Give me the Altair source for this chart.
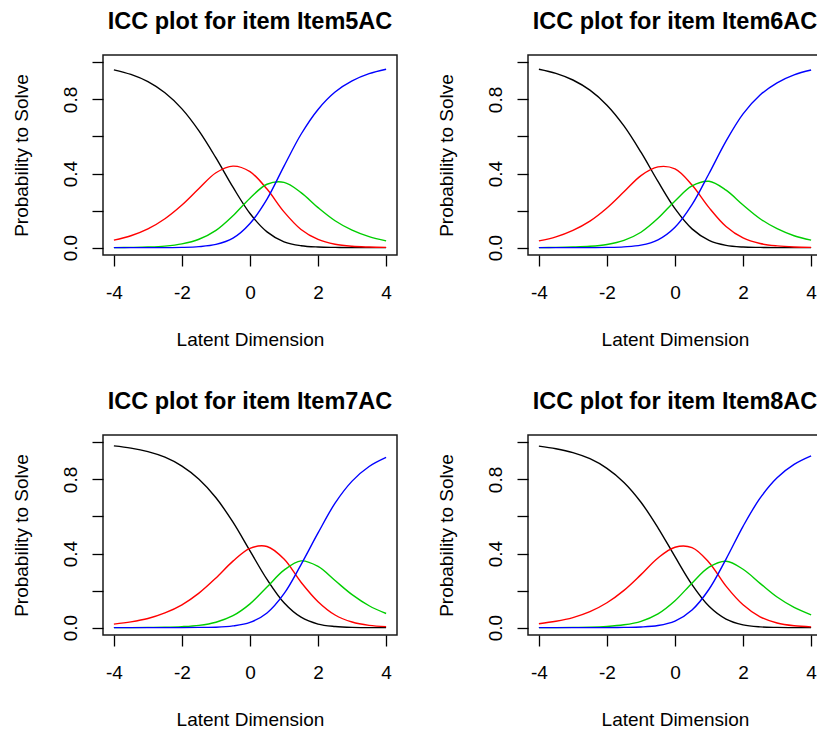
import altair as alt
import pandas as pd

# Latent dimension grid the category curves are sampled on
theta = [-4.0, -3.5, -3.0, -2.5, -2.0, -1.5, -1.0, -0.5, 0.0,
         0.5, 1.0, 1.5, 2.0, 2.5, 3.0, 3.5, 4.0]

items = ["Item5AC", "Item6AC", "Item7AC", "Item8AC"]
categories = ["0", "1", "2", "3"]
category_colors = ["black", "red", "#00CD00", "blue"]

x_ticks = [-4, -2, 0, 2, 4]
y_ticks = [0.0, 0.2, 0.4, 0.6, 0.8, 1.0]
y_tick_labels = ["0.0", "", "0.4", "", "0.8", ""]

# Category response probabilities, one list per category
item5_cat0 = [0.960, 0.935, 0.896, 0.836, 0.749, 0.630, 0.484, 0.326, 0.184,
              0.085, 0.031, 0.010, 0.003, 0.001, 0.000, 0.000, 0.000]
item5_cat1 = [0.040, 0.064, 0.101, 0.156, 0.230, 0.319, 0.404, 0.440, 0.410,
              0.316, 0.193, 0.098, 0.044, 0.018, 0.007, 0.003, 0.001]
item5_cat2 = [0.000, 0.001, 0.003, 0.008, 0.020, 0.045, 0.093, 0.172, 0.267,
              0.342, 0.352, 0.297, 0.216, 0.145, 0.094, 0.059, 0.036]
item5_cat3 = [0.000, 0.000, 0.000, 0.000, 0.001, 0.005, 0.017, 0.051, 0.130,
              0.262, 0.440, 0.612, 0.746, 0.840, 0.900, 0.939, 0.963]

item6_cat0 = [0.963, 0.941, 0.905, 0.850, 0.769, 0.657, 0.515, 0.357, 0.210,
              0.101, 0.039, 0.012, 0.003, 0.001, 0.000, 0.000, 0.000]
item6_cat1 = [0.036, 0.058, 0.093, 0.143, 0.214, 0.301, 0.389, 0.436, 0.425,
              0.338, 0.216, 0.114, 0.052, 0.022, 0.009, 0.003, 0.001]
item6_cat2 = [0.000, 0.001, 0.003, 0.007, 0.017, 0.039, 0.083, 0.158, 0.252,
              0.333, 0.358, 0.310, 0.230, 0.156, 0.102, 0.064, 0.040]
item6_cat3 = [0.000, 0.000, 0.000, 0.000, 0.001, 0.004, 0.013, 0.042, 0.110,
              0.232, 0.400, 0.575, 0.722, 0.824, 0.890, 0.933, 0.959]

item7_cat0 = [0.981, 0.969, 0.950, 0.920, 0.872, 0.801, 0.701, 0.569, 0.414,
              0.260, 0.134, 0.056, 0.019, 0.006, 0.001, 0.000, 0.000]
item7_cat1 = [0.019, 0.031, 0.049, 0.079, 0.123, 0.186, 0.268, 0.359, 0.428,
              0.438, 0.370, 0.245, 0.140, 0.068, 0.030, 0.012, 0.005]
item7_cat2 = [0.000, 0.000, 0.001, 0.002, 0.005, 0.012, 0.029, 0.064, 0.128,
              0.219, 0.310, 0.360, 0.330, 0.254, 0.178, 0.118, 0.076]
item7_cat3 = [0.000, 0.000, 0.000, 0.000, 0.000, 0.001, 0.002, 0.009, 0.028,
              0.079, 0.183, 0.340, 0.511, 0.672, 0.791, 0.870, 0.919]

item8_cat0 = [0.980, 0.966, 0.945, 0.912, 0.860, 0.784, 0.677, 0.539, 0.383,
              0.232, 0.115, 0.046, 0.015, 0.004, 0.001, 0.000, 0.000]
item8_cat1 = [0.021, 0.034, 0.054, 0.086, 0.134, 0.201, 0.286, 0.376, 0.434,
              0.432, 0.352, 0.224, 0.123, 0.058, 0.025, 0.010, 0.004]
item8_cat2 = [0.000, 0.000, 0.001, 0.002, 0.006, 0.015, 0.034, 0.074, 0.145,
              0.240, 0.326, 0.358, 0.315, 0.239, 0.165, 0.109, 0.069]
item8_cat3 = [0.000, 0.000, 0.000, 0.000, 0.000, 0.001, 0.003, 0.011, 0.035,
              0.095, 0.207, 0.370, 0.547, 0.699, 0.809, 0.881, 0.927]

curves = {
    "Item5AC": [item5_cat0, item5_cat1, item5_cat2, item5_cat3],
    "Item6AC": [item6_cat0, item6_cat1, item6_cat2, item6_cat3],
    "Item7AC": [item7_cat0, item7_cat1, item7_cat2, item7_cat3],
    "Item8AC": [item8_cat0, item8_cat1, item8_cat2, item8_cat3],
}

rows = []
for item in items:
    for cat, probs in zip(categories, curves[item]):
        for t, p in zip(theta, probs):
            rows.append({"item": item, "category": cat, "theta": t, "prob": p})
data = pd.DataFrame(rows)

FONT = "Liberation Sans"
PANEL_W, PANEL_H = 294, 200

# y tick labels: R drops the ones that would collide
y_label_expr = "''"
for v, lab in reversed(list(zip(y_ticks, y_tick_labels))):
    y_label_expr = f"datum.value == {v} ? '{lab}' : {y_label_expr}"

x_scale = alt.Scale(domain=[-4.32, 4.32], nice=False, zero=False)
y_scale = alt.Scale(domain=[-0.04, 1.04], nice=False, zero=False)

x_axis = alt.Axis(
    values=x_ticks, labelExpr="'' + datum.value", grid=False, domain=False,
    tickSize=11, tickWidth=1.3, tickColor="black",
    labelFont=FONT, labelFontSize=19, labelColor="black",
    labelBaseline="alphabetic", labelAlign="center", labelPadding=32,
    labelFlush=False, labelOverlap=False,
    titleFont=FONT, titleFontSize=19, titleFontWeight="normal", titleColor="black",
    titleX=PANEL_W / 2, titleY=90, titleAlign="center", titleBaseline="alphabetic",
)
y_axis = alt.Axis(
    values=y_ticks, labelExpr=y_label_expr, grid=False, domain=False,
    tickSize=11, tickWidth=1.3, tickColor="black",
    labelFont=FONT, labelFontSize=19, labelColor="black",
    labelAngle=270, labelAlign="center", labelBaseline="alphabetic",
    labelPadding=16, labelFlush=False, labelOverlap=False,
    titleFont=FONT, titleFontSize=19, titleFontWeight="normal", titleColor="black",
    titleAngle=270, titleX=-76, titleY=PANEL_H / 2, titleAlign="center",
    titleBaseline="alphabetic",
)


def icc_panel(item):
    layers = []
    for cat, col in zip(categories, category_colors):
        layers.append(
            alt.Chart(data)
            .transform_filter((alt.datum.item == item) & (alt.datum.category == cat))
            .mark_line(color=col, strokeWidth=1.4, interpolate="catmull-rom")
            .encode(
                x=alt.X("theta:Q", scale=x_scale, axis=x_axis, title="Latent Dimension"),
                y=alt.Y("prob:Q", scale=y_scale, axis=y_axis, title="Probability to Solve"),
            )
        )
    return alt.layer(*layers).properties(
        width=PANEL_W,
        height=PANEL_H,
        title=alt.TitleParams(
            text=f"ICC plot for item {item}", font=FONT, fontSize=23.5,
            fontWeight="bold", color="black", anchor="middle", frame="group",
            baseline="alphabetic", offset=3,
        ),
    )


chart = (
    alt.concat(*[icc_panel(it) for it in items], columns=2,
               spacing={"row": 180, "column": 131}, bounds="flush")
    .properties(padding={"left": 11, "top": 8, "right": -6, "bottom": 0},
                background="white")
    .configure_view(stroke="#1a1a1a", strokeWidth=1.5)
)

chart.save("out.html", embed_options={"renderer": "svg", "actions": False})
